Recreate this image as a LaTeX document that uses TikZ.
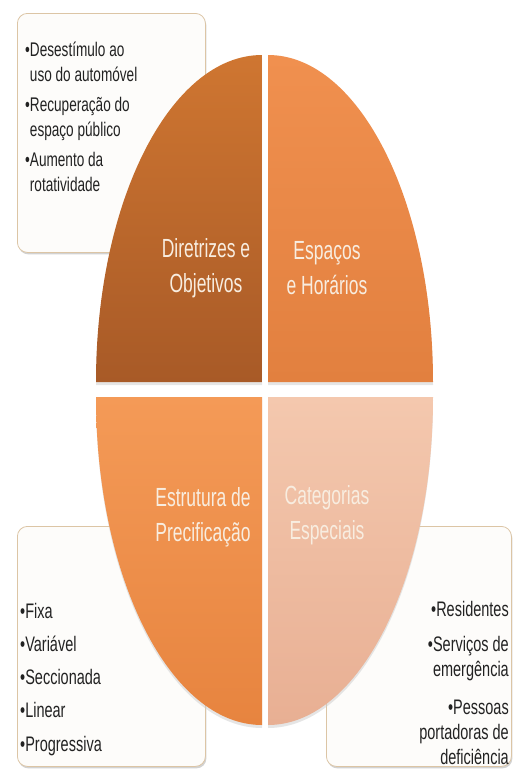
\documentclass[tikz,border=0pt]{standalone}
\usepackage{fontspec}
\setmainfont{Liberation Sans}
\usetikzlibrary{shadows}
\definecolor{tlTop}{HTML}{CF7631}
\definecolor{tlBot}{HTML}{A85A27}
\definecolor{trTop}{HTML}{F0904F}
\definecolor{trBot}{HTML}{E2803F}
\definecolor{blTop}{HTML}{F49A57}
\definecolor{blBot}{HTML}{E7843F}
\definecolor{brTop}{HTML}{F4C8AE}
\definecolor{brBot}{HTML}{E8AF93}
\definecolor{qtext}{HTML}{F8EDE0}
\definecolor{boxfill}{HTML}{FDFCFA}
\definecolor{boxline}{HTML}{DCC5A5}
\definecolor{listcol}{HTML}{222222}
\begin{document}
\begin{tikzpicture}[x=1pt,y=-1pt,
  callout/.style={draw=boxline, fill=boxfill, rounded corners=10pt, line width=0.8pt, inner sep=0pt,
    drop shadow={shadow xshift=1pt, shadow yshift=-2pt, fill=black!35, opacity=0.5}},
  quad/.style={drop shadow={shadow xshift=0pt, shadow yshift=-3pt, fill=black!20, opacity=0.5}},
  quadtext/.style={text=qtext, align=center, yscale=1.5, inner sep=0pt, font=\fontsize{17.5}{23.3}\selectfont},
  listtext/.style={text=listcol, yscale=1.45, inner sep=0pt}]
\useasboundingbox (0,0) rectangle (512,769);
% callout boxes (behind)
\node[callout, minimum width=188pt, minimum height=239pt, anchor=north west] (boxTL) at (17,13) {};
\node[callout, minimum width=188pt, minimum height=240pt, anchor=north west] (boxBL) at (17,526) {};
\node[callout, minimum width=185pt, minimum height=240pt, anchor=north west] (boxBR) at (326,526) {};
% quadrants
\path[quad, top color=tlTop, bottom color=tlBot] (262,382) -- (96,382) arc[start angle=180, end angle=90, x radius=166pt, y radius=327pt] -- cycle;
\path[quad, top color=trTop, bottom color=trBot] (268,382) -- (268,55) arc[start angle=90, end angle=0, x radius=165pt, y radius=327pt] -- cycle;
\path[quad, top color=blTop, bottom color=blBot] (262,397) -- (96,397) arc[start angle=180, end angle=270, x radius=166pt, y radius=328pt] -- cycle;
\path[quad, top color=brTop, bottom color=brBot] (268,397) -- (268,725) arc[start angle=270, end angle=360, x radius=165pt, y radius=328pt] -- cycle;
% quadrant labels
\node[quadtext] (qTL) at (206,268) {Diretrizes e\\Objetivos};
\node[quadtext] (qTR) at (327,268) {Espaços\\e Horários};
\node[quadtext] (qBL) at (203,517) {Estrutura de\\Precificação};
\node[quadtext] (qBR) at (327,515) {Categorias\\Especiais};
% lists (base anchor = baseline of last line)
\node[listtext, align=left, anchor=base west, font=\fontsize{13.6}{17.2}\selectfont] (listTL) at (25,191)
  {•Desestímulo ao\\\phantom{•}uso do automóvel\\[3.5pt]•Recuperação do\\\phantom{•}espaço público\\[3.5pt]•Aumento da\\\phantom{•}rotatividade};
\node[listtext, align=left, anchor=base west, font=\fontsize{14.5}{22.8}\selectfont] (listBL) at (20,751)
  {•Fixa\\•Variável\\•Seccionada\\•Linear\\•Progressiva};
\node[listtext, align=right, anchor=base east, font=\fontsize{14.5}{17.2}\selectfont] (listBR) at (509,764)
  {•Residentes\\[6.9pt]•Serviços de\\emergência\\[8.9pt]•Pessoas\\portadoras de\\deficiência};
\end{tikzpicture}
\end{document}
